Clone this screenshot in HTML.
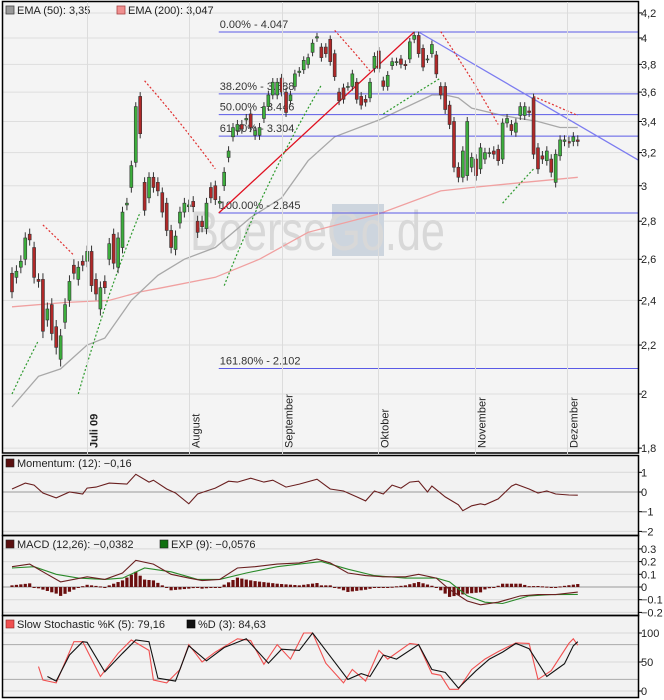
<!DOCTYPE html>
<html><head><meta charset="utf-8"><style>
html,body{margin:0;padding:0;background:#fff;}
svg{display:block;font-family:"Liberation Sans",sans-serif;}
</style></head><body>
<svg id="chart" width="664" height="700" viewBox="0 0 664 700" xmlns="http://www.w3.org/2000/svg"></svg>
<script>
// ---- price data (daily candles) ----
const opens = [2.53,2.51,2.56,2.60,2.73,2.66,2.50,2.50,2.31,2.38,2.28,2.14,2.30,2.40,2.57,2.50,2.59,2.59,2.64,2.50,2.36,2.49,2.60,2.73,2.56,2.66,2.89,2.99,3.14,3.57,3.02,2.93,3.05,3.02,2.96,2.90,2.75,2.65,2.79,2.85,2.88,2.91,2.80,2.80,2.76,2.99,3.00,2.90,3.00,3.17,3.30,3.34,3.38,3.41,3.45,3.31,3.31,3.42,3.50,3.58,3.58,3.70,3.60,3.54,3.64,3.74,3.76,3.80,3.89,4.00,3.93,3.93,3.99,3.88,3.60,3.63,3.64,3.64,3.67,3.57,3.55,3.56,3.77,3.90,3.68,3.64,3.79,3.82,3.84,3.80,3.84,3.99,4.02,3.92,3.84,3.88,3.87,3.64,3.64,3.51,3.40,3.11,3.05,3.06,3.11,3.16,3.10,3.16,3.20,3.21,3.22,3.16,3.39,3.38,3.33,3.44,3.44,3.47,3.56,3.23,3.18,3.15,3.16,3.02,3.18,3.27,3.27,3.27,3.28];
const closes = [2.44,2.54,2.59,2.71,2.70,2.51,2.49,2.26,2.36,2.25,2.19,2.24,2.38,2.49,2.53,2.56,2.57,2.64,2.47,2.43,2.46,2.46,2.68,2.58,2.71,2.85,2.90,3.12,3.50,3.32,2.86,3.05,2.99,2.97,2.85,2.75,2.66,2.72,2.85,2.90,2.89,2.88,2.74,2.77,2.90,2.93,2.92,2.91,3.08,3.21,3.36,3.38,3.35,3.42,3.36,3.34,3.36,3.50,3.58,3.67,3.67,3.60,3.46,3.58,3.73,3.75,3.83,3.85,3.96,4.01,3.85,3.88,3.82,3.71,3.54,3.55,3.64,3.73,3.55,3.51,3.53,3.67,3.86,3.77,3.64,3.72,3.82,3.82,3.80,3.79,3.97,4.02,3.88,3.78,3.84,3.95,3.73,3.58,3.48,3.38,3.11,3.05,3.21,3.40,3.17,3.06,3.23,3.20,3.20,3.19,3.15,3.39,3.42,3.34,3.39,3.50,3.50,3.46,3.19,3.10,3.16,3.21,3.08,3.19,3.28,3.28,3.26,3.30,3.27];
// ---- moving averages (day index / value) ----
const ema50Idx = [0,6,11,17,21,27,33,39,46,54,61,67,73,83,95,98,101,104,111,119,124,128];
const ema50Val = [1.95,2.07,2.10,2.20,2.23,2.40,2.52,2.60,2.66,2.82,2.93,3.15,3.30,3.41,3.58,3.58,3.56,3.49,3.44,3.40,3.36,3.36];
const ema200Idx = [0,12,22,29,34,46,56,67,83,97,104,116,128];
const ema200Val = [2.37,2.39,2.40,2.44,2.46,2.51,2.60,2.74,2.84,2.97,2.99,3.02,3.05];
// ---- parabolic SAR segments ----
const sarStart = [0,15,48,84,111,7,30,73,97,118];
const sarEnd   = [6,29,70,97,118,14,46,81,110,128];
const sarFrom  = [2.00,2.00,2.47,3.45,2.90,2.78,3.68,4.06,4.05,3.57];
const sarTo    = [2.22,2.85,3.65,3.70,3.10,2.62,3.10,3.75,3.38,3.44];
const sarSide  = ['g','g','g','g','g','r','r','r','r','r'];
// ---- fibonacci ----
const fibLabels = ['0.00% - 4.047','38.20% - 3.588','50.00% - 3.446','61.80% - 3.304','100.00% - 2.845','161.80% - 2.102'];
const fibLevels = [4.047,3.588,3.446,3.304,2.845,2.102];
const priceTicks = [4.2,4,3.8,3.6,3.4,3.2,3,2.8,2.6,2.4,2.2,2,1.8];
const priceTickLabels = ['4,2','4','3,8','3,6','3,4','3,2','3','2,8','2,6','2,4','2,2','2','1,8'];
const monthNames = ['Juli 09','August','September','Oktober','November','Dezember'];
const monthIdx = [17.0,40.1,61.1,82.8,104.8,125.5];
// ---- momentum ----
const momIdx = [0,3,5,7,10,13,16,17,19,22,26,28,31,32,35,37,40,42,44,46,49,51,54,57,59,62,65,69,72,75,78,80,82,84,86,88,90,92,94,95,98,101,102,104,106,107,110,113,114,117,119,121,123,126,128];
const momVal = [.15,.45,.35,-.05,-.3,0,-.1,.2,.25,.45,.4,.9,.5,.6,.15,-.05,-.6,-.1,.05,.2,.55,.5,.7,.5,.6,.25,.4,.65,.15,.05,-.25,-.45,.05,-.1,.35,.2,.5,.55,0,.3,-.25,-.65,-.95,-.7,-.6,-.65,-.35,.3,.4,.15,-.05,.05,-.1,-.15,-.16];
const momTicks = [1,0,-1,-2];
// ---- MACD ----
const macdIdx = [0,4,7,11,17,21,25,28,32,36,40,43,47,51,55,60,65,69,72,76,80,84,89,92,96,99,103,106,110,115,119,123,128];
const macdVal = [.16,.18,.12,.04,.08,.06,.11,.21,.18,.10,.07,.05,.06,.15,.16,.18,.19,.22,.19,.11,.09,.08,.08,.10,.07,-.02,-.11,-.14,-.12,-.07,-.06,-.06,-.04];
const sigIdx = [0,5,10,15,21,25,30,36,42,47,53,60,65,70,76,82,89,96,99,103,107,111,117,122,128];
const sigVal = [.15,.16,.10,.07,.06,.07,.15,.12,.06,.06,.11,.16,.18,.20,.14,.09,.07,.07,.04,-.07,-.12,-.13,-.07,-.06,-.058];
const macdTicks = [0.3,0.2,0.1,0,-0.1,-0.2];
const macdTickLabels = ['0.3','0.2','0.1','0','-0.1','-0.2'];
// ---- stochastic ----
const kIdx = [6,7,10,14,16,20,24,27,31,32,35,38,40,43,46,51,54,57,60,63,66,68,71,75,77,80,83,85,90,92,95,97,99,101,104,107,110,114,117,119,122,126,127,128];
const kVal = [42,19,14,85,85,25,65,88,70,19,14,37,80,50,67,90,87,46,80,55,100,100,48,14,37,17,70,55,82,80,30,27,3,3,37,55,68,83,82,20,35,82,90,79];
const dIdx = [8,10,13,16,17,21,25,28,31,33,37,40,44,48,53,58,61,65,68,71,76,79,81,84,87,92,95,98,101,105,108,111,114,117,121,125,127,128];
const dVal = [25,17,62,85,84,33,65,88,85,22,17,78,52,75,90,48,72,70,100,70,20,30,25,62,55,80,37,32,5,35,55,67,82,73,25,47,78,85];
const stoTicks = [100,50,0];

const NS='http://www.w3.org/2000/svg';
const svg=document.getElementById('chart');
function el(tag,attrs,parent){const e=document.createElementNS(NS,tag);for(const k in attrs)e.setAttribute(k,attrs[k]);(parent||svg).appendChild(e);return e;}
const L=2,R=638;
const xOf=i=>12+4.42*i;
const yP=p=>750-513.6*Math.log(p);
function pts(idx,val,yf){return idx.map((d,k)=>xOf(d).toFixed(1)+','+yf(val[k]).toFixed(1)).join(' ');}
function interp(idx,val,i){if(i<=idx[0])return val[0];for(let k=1;k<idx.length;k++){if(i<=idx[k]){const t=(i-idx[k-1])/(idx[k]-idx[k-1]);return val[k-1]+t*(val[k]-val[k-1]);}}return val[val.length-1];}

// ===== Main panel =====
const main=el('g',{});


el('rect',{x:L,y:2,width:R-L,height:451,fill:'#f4f4f4',stroke:'none'},main);
priceTicks.forEach((p,k)=>{
  const y=yP(p);
  el('line',{x1:L,x2:R,y1:y,y2:y,stroke:'#dedede','stroke-width':1},main);
  el('line',{x1:R,x2:R+4,y1:y,y2:y,stroke:'#000'},main);
  const t=el('text',{x:R+3,y:y+4,'font-size':11,fill:'#222'},main);
  t.textContent=priceTickLabels[k];
  
  
});
monthIdx.forEach((m,k)=>{
  const x=Math.round(xOf(m))+0.5;
  el('line',{x1:x,x2:x,y1:2,y2:697,stroke:'#dcdcdc'},svg);
  el('line',{x1:x,x2:x,y1:449,y2:453,stroke:'#000'},main);
  const t=el('text',{x:0,y:0,'font-size':11,fill:'#222','font-weight':k===0?'bold':'normal',transform:`translate(${x+10},448) rotate(-90)`},main);
  t.textContent=monthNames[k];
  
  
});
// watermark
const wm=el('g',{},main);


el('rect',{x:332,y:204,width:52,height:52,fill:'#cdd5de'},wm);
const wt=el('text',{x:190,y:250,'font-size':56,fill:'#d8d8d8',textLength:255,lengthAdjust:'spacingAndGlyphs'},wm);
wt.textContent='BoerseGo.de';
const e200=el('polyline',{points:pts(ema200Idx,ema200Val,yP),fill:'none',stroke:'#f0a0a0','stroke-width':1.3},main);


const e50=el('polyline',{points:pts(ema50Idx,ema50Val,yP),fill:'none',stroke:'#a8a8a8','stroke-width':1.3},main);


const x0=xOf(47)-1;
fibLevels.forEach((lv,k)=>{
  const y=yP(lv);
  const ln=el('line',{x1:x0,x2:R,y1:y,y2:y,stroke:'#5a5ae6','stroke-width':1},main);
  
  
  const t=el('text',{x:x0+1,y:y-4,'font-size':11,fill:'#333'},main);
  t.textContent=fibLabels[k];
  
  
});
const tl1=el('line',{x1:x0,y1:yP(2.845),x2:xOf(91),y2:yP(4.047),stroke:'#e01020','stroke-width':1.3},main);


const tl2=el('line',{x1:xOf(92),y1:yP(4.047),x2:R,y2:yP(3.155),stroke:'#7c7cf0','stroke-width':1.3},main);


sarStart.forEach((s,k)=>{
  const idx=[],val=[];
  for(let i=s;i<=sarEnd[k];i++){idx.push(i);val.push(sarFrom[k]+(sarTo[k]-sarFrom[k])*(i-s)/Math.max(1,sarEnd[k]-s));}
  const p=el('polyline',{points:pts(idx,val,yP),fill:'none',stroke:sarSide[k]==='g'?'#2e9a2e':'#e03030','stroke-width':1.2,'stroke-dasharray':'2,2'},main);
  
  
});
closes.forEach((c,i)=>{
  const o=opens[i];const x=xOf(i);
  const hi=Math.max(o,c)+0.03,lo=Math.min(o,c)-0.03;
  const g=el('g',{},main);
  
  
  el('line',{x1:x,x2:x,y1:yP(hi),y2:yP(lo),stroke:'#333'},g);
  const yt=yP(Math.max(o,c)),yb=yP(Math.min(o,c));
  el('rect',{x:x-1.5,y:yt,width:3,height:Math.max(1,yb-yt),fill:c>=o?'#3cae3c':'#b02828',stroke:'#333','stroke-width':0.6},g);
});
const lg=el('g',{},main);


el('rect',{x:6,y:6,width:8,height:8,fill:'#999',stroke:'#444','stroke-width':0.8},lg);
let t=el('text',{x:17,y:14,'font-size':11,fill:'#222'},lg);t.textContent='EMA (50): 3,35';
el('rect',{x:117,y:6,width:8,height:8,fill:'#f09090',stroke:'#a44','stroke-width':0.8},lg);
t=el('text',{x:128,y:14,'font-size':11,fill:'#222'},lg);t.textContent='EMA (200): 3,047';
el('rect',{x:L+0.5,y:1.5,width:R-L,height:451.5,fill:'none',stroke:'#000','stroke-width':1.5},main);

function panel(name,top,bot){
  const g=el('g',{});
  
  
  el('rect',{x:L,y:top,width:R-L,height:bot-top,fill:'#f2f2f2'},g);
  return g;
}
function tickLabel(g,y,txt){
  el('line',{x1:R,x2:R+4,y1:y,y2:y,stroke:'#000'},g);
  const t=el('text',{x:R+3,y:y+4,'font-size':11,fill:'#222'},g);t.textContent=txt;
  
  
}
const mg=panel('momentum-panel',455,535);
const yM=v=>492-19.7*v;
momTicks.forEach(v=>{el('line',{x1:L,x2:R,y1:yM(v),y2:yM(v),stroke:v===0?'#999':'#d8d8d8'},mg);tickLabel(mg,yM(v),String(v).replace('-','−'));});
const ml=el('polyline',{points:pts(momIdx,momVal,yM),fill:'none',stroke:'#6a1f1f','stroke-width':1.1},mg);


el('rect',{x:6,y:459,width:8,height:8,fill:'#5a1010',stroke:'#222','stroke-width':0.6},mg);
t=el('text',{x:17,y:467,'font-size':11,fill:'#222'},mg);t.textContent='Momentum: (12): −0,16';
const cg=panel('macd-panel',535,615);
const yC=v=>587-127*v;
macdTicks.forEach((v,k)=>{el('line',{x1:L,x2:R,y1:yC(v),y2:yC(v),stroke:v===0?'#999':'#d8d8d8'},cg);tickLabel(cg,yC(v),macdTickLabels[k].replace('-','−'));});
for(let i=0;i<closes.length;i++){
  const h=(interp(macdIdx,macdVal,i)-interp(sigIdx,sigVal,i))*1.3;
  const y1=yC(Math.max(0,h)),y2=yC(Math.min(0,h));
  const b=el('rect',{x:xOf(i)-1.6,y:y1,width:3.2,height:Math.max(1,y2-y1),fill:'#6b0f0f'},cg);
  
  
}
const sl=el('polyline',{points:pts(sigIdx,sigVal,yC),fill:'none',stroke:'#2a8a2a','stroke-width':1.1},cg);


const mcl=el('polyline',{points:pts(macdIdx,macdVal,yC),fill:'none',stroke:'#6a1f1f','stroke-width':1.1},cg);


el('rect',{x:6,y:540,width:8,height:8,fill:'#5a1010',stroke:'#222','stroke-width':0.6},cg);
t=el('text',{x:17,y:548,'font-size':11,fill:'#222'},cg);t.textContent='MACD (12,26): −0,0382';
el('rect',{x:160,y:540,width:8,height:8,fill:'#107010',stroke:'#222','stroke-width':0.6},cg);
t=el('text',{x:171,y:548,'font-size':11,fill:'#222'},cg);t.textContent='EXP (9): −0,0576';
const sg=panel('stochastic-panel',615,697);
const yS=v=>691-0.58*v;
[100,80,50,20,0].forEach(v=>el('line',{x1:L,x2:R,y1:yS(v),y2:yS(v),stroke:(v===80||v===20)?'#aaa':'#d8d8d8'},sg));
stoTicks.forEach(v=>tickLabel(sg,yS(v),String(v)));
const kl=el('polyline',{points:pts(kIdx,kVal,yS),fill:'none',stroke:'#f05050','stroke-width':1.1},sg);


const dl=el('polyline',{points:pts(dIdx,dVal,yS),fill:'none',stroke:'#111','stroke-width':1.1},sg);


el('rect',{x:6,y:620,width:8,height:8,fill:'#f05050',stroke:'#822','stroke-width':0.6},sg);
t=el('text',{x:17,y:628,'font-size':11,fill:'#222'},sg);t.textContent='Slow Stochastic %K (5): 79,16';
el('rect',{x:187,y:620,width:8,height:8,fill:'#111',stroke:'#000','stroke-width':0.6},sg);
t=el('text',{x:198,y:628,'font-size':11,fill:'#222'},sg);t.textContent='%D (3): 84,63';
[[455,535],[535,615],[615,697]].forEach(b=>el('rect',{x:L+0.5,y:b[0]+0.5,width:R-L,height:b[1]-b[0],fill:'none',stroke:'#000','stroke-width':1.5}));
</script>
</body></html>
